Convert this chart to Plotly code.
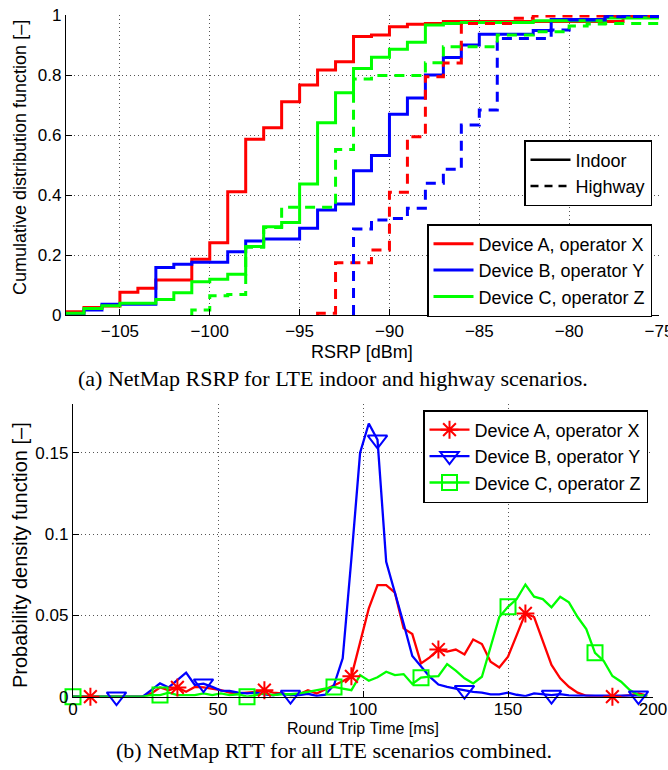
import plotly.graph_objects as go

W, H = 668, 770

# ---------------- Top chart: RSRP CDF (stairs, 1 dBm bins) ----------------
rsrp_bins = [-108, -107, -106, -105, -104, -103, -102, -101, -100, -99,
             -98, -97, -96, -95, -94, -93, -92, -91, -90, -89,
             -88, -87, -86, -85, -84, -83, -82, -81, -80, -79,
             -78, -77, -76, -75]

cdf_A_indoor = [0.011, 0.025, 0.030, 0.076, 0.089, 0.117, 0.117, 0.186, 0.241, 0.411,
                0.586, 0.624, 0.711, 0.767, 0.817, 0.844, 0.928, 0.933, 0.961, 0.969,
                0.972, 0.978, 0.978, 0.978, 0.978, 0.978, 0.978, 0.978, 0.978, 0.978,
                0.978, 0.992, 0.992, 0.992]
cdf_B_indoor = [0.000, 0.017, 0.036, 0.036, 0.036, 0.158, 0.169, 0.176, 0.176, 0.211,
                0.247, 0.253, 0.253, 0.289, 0.350, 0.370, 0.481, 0.532, 0.669, 0.723,
                0.800, 0.858, 0.900, 0.936, 0.936, 0.936, 0.948, 0.985, 0.985, 0.985,
                0.995, 0.995, 1.000, 1.000]
cdf_C_indoor = [0.006, 0.022, 0.031, 0.039, 0.039, 0.052, 0.074, 0.111, 0.119, 0.136,
                0.228, 0.294, 0.308, 0.437, 0.641, 0.741, 0.822, 0.859, 0.886, 0.909,
                0.967, 0.972, 0.975, 0.975, 0.975, 0.975, 0.981, 0.981, 0.981, 0.981,
                0.990, 0.990, 0.990, 0.990]
cdf_A_highway = [None, None, None, None, None, None, None, None, None, None,
                 None, None, None, None, 0.006, 0.174, 0.174, 0.217, 0.409, 0.594,
                 0.794, 0.840, 0.972, 0.972, 0.972, 0.989, 0.997, 0.997, 0.997, 0.997,
                 0.997, 0.997, 0.997, 0.997]
cdf_B_highway = [None, None, None, None, None, None, None, None, None, None,
                 None, None, None, None, None, None, 0.287, 0.317, 0.322, 0.356,
                 0.439, 0.486, 0.633, 0.683, 0.922, 0.922, 0.922, 0.950, 0.983, 0.983,
                 0.994, 0.995, 0.995, 0.995]
cdf_C_highway = [None, None, None, None, None, None, None, 0.017, 0.064, 0.068,
                 0.226, 0.292, 0.359, 0.359, 0.359, 0.552, 0.787, 0.798, 0.798, 0.798,
                 0.841, 0.894, 0.894, 0.894, 0.933, 0.933, 0.944, 0.944, 0.963, 0.970,
                 0.972, 0.972, 0.972, 0.972]

rsrp_ticks = [-105, -100, -95, -90, -85, -80, -75]
cdf_ticks = [0, 0.2, 0.4, 0.6, 0.8, 1]

# ---------------- Bottom chart: RTT PDF (3 ms grid) ----------------
rtt_ms = list(range(0, 201, 3))

pdf_A = [0, 0, 0, 0, 0, 0, 0, 0, 0, 0.002,
         0.0057, 0.004, 0.0057, 0.003, 0.006, 0.0057, 0.005, 0.004, 0.0025, 0.002,
         0.0025, 0.003, 0.004, 0.0025, 0.002, 0.001, 0.0015, 0.004, 0.002, 0.0045,
         0.0065, 0.0095, 0.0125, 0.033, 0.0543, 0.0686, 0.0686, 0.064, 0.042, 0.0385,
         0.0205, 0.0242, 0.029, 0.0277, 0.029, 0.026, 0.0352, 0.0324, 0.0215, 0.018,
         0.0246, 0.0379, 0.0512, 0.049, 0.0348, 0.0195, 0.0113, 0.0061, 0.0025, 0.0006,
         0.0004, 0.0003, 0.0, 0.0003, 0.001, 0.002, 0.0006]
pdf_B = [0, 0, 0, 0, 0, 0, 0, 0, 0, 0.004,
         0.0082, 0.0057, 0.0102, 0.0148, 0.0072, 0.008, 0.006, 0.0037, 0.0035, 0.0025,
         0.002, 0.0025, 0.0015, 0.0008, 0.002, 0.001, 0.001, 0.0018, 0.0005, 0.0012,
         0.0072, 0.0236, 0.085, 0.15, 0.168, 0.158, 0.083, 0.0645, 0.045, 0.025,
         0.0184, 0.0123, 0.0075, 0.006, 0.005, 0.004, 0.003, 0.0025, 0.0014, 0.0014,
         0.0025, 0.0012, 0.0004, 0.002, 0.0014, 0.001, 0.0016, 0.0008, 0.0006, 0.0006,
         0.0006, 0.0006, 0.0006, 0.0006, 0.0004, 0.0006, 0.0006]
pdf_C = [0, 0, 0, 0, 0, 0, 0, 0, 0, 0.001,
         0.001, 0.0025, 0.001, 0.001, 0.001, 0.002, 0.001, 0.002, 0.001, 0.0015,
         0.0, 0.001, 0.002, 0.001, 0.0015, 0.0015, 0.002, 0.003, 0.004, 0.005,
         0.006, 0.005, 0.004, 0.0133, 0.0098, 0.012, 0.0154, 0.0133, 0.0139, 0.0078,
         0.0117, 0.0123, 0.0127, 0.0201, 0.016, 0.0113, 0.0082, 0.0123, 0.0307, 0.049,
         0.0553, 0.060, 0.069, 0.0615, 0.060, 0.055, 0.0615, 0.058, 0.049, 0.0416,
         0.027, 0.022, 0.0127, 0.0092, 0.0041, 0.001, 0.0006]

marker_ms_A = [6, 36, 66, 96, 126, 156, 186]
marker_ms_B = [15, 45, 75, 105, 135, 165, 195]
marker_ms_C = [0, 30, 60, 90, 120, 150, 180]

rtt_ticks = [0, 50, 100, 150, 200]
pdf_ticks = [0, 0.05, 0.1, 0.15]

devices = ["Device A, operator X", "Device B, operator Y", "Device C, operator Z"]
colors = ["#ff0000", "#0000ff", "#00ff00"]
symbols = ["asterisk-open", "triangle-down-open", "square-open"]
msizes = [15, 17, 15]

# ---------------- helpers ----------------
def px(x):
    return x / W

def py(y):
    return 1 - y / H

def stairs(bins, vals):
    xs, ys = [], []
    first = True
    for b, v in zip(bins, vals):
        if v is None:
            continue
        if first:
            xs.append(b)
            ys.append(0)
            first = False
        xs.append(b)
        ys.append(v)
    return xs, ys

SANS = "Liberation Sans, Arial, sans-serif"
SERIF = "Liberation Serif, Times New Roman, serif"
DASH = "10px,7px"

fig = go.Figure()

indoor = [cdf_A_indoor, cdf_B_indoor, cdf_C_indoor]
highway = [cdf_A_highway, cdf_B_highway, cdf_C_highway]

for i in range(3):
    fig.add_trace(go.Scatter(x=rsrp_bins, y=indoor[i], mode="lines", line_shape="hv",
                             line=dict(color=colors[i], width=3),
                             name=devices[i], legend="legend", showlegend=True,
                             xaxis="x", yaxis="y"))
for i in range(3):
    xs, ys = stairs(rsrp_bins, highway[i])
    fig.add_trace(go.Scatter(x=xs, y=ys, mode="lines", line_shape="hv",
                             line=dict(color=colors[i], width=3, dash=DASH),
                             showlegend=False, xaxis="x", yaxis="y"))

# Line style legend (Indoor / Highway)
fig.add_trace(go.Scatter(x=[None], y=[None], mode="lines",
                         line=dict(color="black", width=2.5),
                         name="Indoor", legend="legend2", xaxis="x", yaxis="y"))
fig.add_trace(go.Scatter(x=[None], y=[None], mode="lines",
                         line=dict(color="black", width=2.5, dash="8px,6px"),
                         name="Highway", legend="legend2", xaxis="x", yaxis="y"))

# Bottom chart
pdfs = [pdf_A, pdf_B, pdf_C]
mks = [marker_ms_A, marker_ms_B, marker_ms_C]
for i in range(3):
    fig.add_trace(go.Scatter(x=rtt_ms, y=pdfs[i], mode="lines",
                             line=dict(color=colors[i], width=2.3),
                             showlegend=False, xaxis="x2", yaxis="y2"))
for i in range(3):
    mx = mks[i]
    my = [pdfs[i][rtt_ms.index(m)] for m in mx]
    fig.add_trace(go.Scatter(x=mx, y=my, mode="markers", cliponaxis=False,
                             marker=dict(symbol=symbols[i], size=msizes[i],
                                         color=colors[i],
                                         line=dict(color=colors[i], width=2)),
                             showlegend=False, xaxis="x2", yaxis="y2"))
for i in range(3):
    fig.add_trace(go.Scatter(x=[None], y=[None], mode="lines+markers",
                             line=dict(color=colors[i], width=2.3),
                             marker=dict(symbol=symbols[i], size=msizes[i],
                                         color=colors[i],
                                         line=dict(color=colors[i], width=2)),
                             name=devices[i], legend="legend3",
                             xaxis="x2", yaxis="y2"))

axis_common = dict(showline=True, linecolor="black", linewidth=1.3,
                   ticks="inside", ticklen=6, tickwidth=1, tickcolor="black",
                   showgrid=True, gridcolor="#555555", gridwidth=1,
                   griddash="1px,3px", zeroline=False, automargin=False,
                   tickfont=dict(family=SANS, size=17, color="black"),
                   ticklabeloverflow="allow", mirror=False)

fig.update_layout(
    template="none",
    width=W, height=H, autosize=False,
    margin=dict(l=0, r=0, t=0, b=0),
    paper_bgcolor="white", plot_bgcolor="white",
    font=dict(family=SANS, size=17, color="black"),
    xaxis=dict(domain=[px(66), px(659)], range=[-108, -75], anchor="y",
               tickvals=rsrp_ticks, ticktext=[f"\u2212{abs(t)}" for t in rsrp_ticks],
               **axis_common),
    yaxis=dict(domain=[py(315), py(15)], range=[0, 1], anchor="x",
               tickvals=cdf_ticks, ticktext=["0", "0.2", "0.4", "0.6", "0.8", "1"],
               **axis_common),
    xaxis2=dict(domain=[px(73), px(653)], range=[0, 200], anchor="y2",
                tickvals=rtt_ticks, ticktext=[str(t) for t in rtt_ticks],
                ticklabelstandoff=-3,
                **axis_common),
    yaxis2=dict(domain=[py(696.7), py(404)], range=[0, 0.18], anchor="x2",
                tickvals=pdf_ticks, ticktext=["0", "0.05", "0.1", "0.15"],
                **axis_common),
    legend=dict(x=px(652), y=py(224), xanchor="right", yanchor="top",
                bgcolor="white", bordercolor="black", borderwidth=1.5,
                font=dict(family=SANS, size=18, color="black"), itemwidth=40,
                tracegroupgap=0),
    legend2=dict(x=px(652), y=py(140), xanchor="right", yanchor="top",
                 bgcolor="white", bordercolor="black", borderwidth=1.5,
                 font=dict(family=SANS, size=18, color="black"), itemwidth=40),
    legend3=dict(x=px(648), y=py(410), xanchor="right", yanchor="top",
                 bgcolor="white", bordercolor="black", borderwidth=1.5,
                 font=dict(family=SANS, size=18, color="black"), itemwidth=40),
    showlegend=True,
)

annots = [
    dict(text="Cumulative distribution function [\u2013]", x=px(20), y=py(158),
         textangle=-90, font=dict(family=SANS, size=18)),
    dict(text="RSRP [dBm]", x=px(362), y=py(352), font=dict(family=SANS, size=18)),
    dict(text="(a) NetMap RSRP for LTE indoor and highway scenarios.",
         x=px(333), y=py(378), font=dict(family=SERIF, size=22)),
    dict(text="Probability density function [\u2013]", x=px(20), y=py(555),
         textangle=-90, font=dict(family=SANS, size=20)),
    dict(text="Round Trip Time [ms]", x=px(363), y=py(728), font=dict(family=SANS, size=16)),
    dict(text="(b) NetMap RTT for all LTE scenarios combined.",
         x=px(334), y=py(750), font=dict(family=SERIF, size=22)),
]
for a in annots:
    fig.add_annotation(xref="paper", yref="paper", showarrow=False,
                       xanchor="center", yanchor="middle", **a)

fig.write_html("out.html")
